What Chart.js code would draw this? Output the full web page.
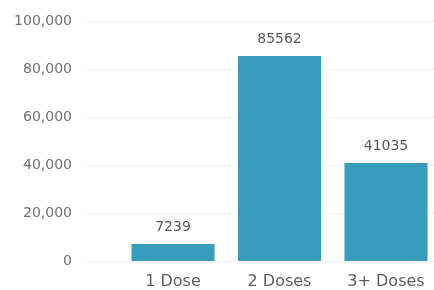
<!DOCTYPE html>
<html>
<head>
<meta charset="utf-8">
<script src="https://cdn.jsdelivr.net/npm/chart.js@4"></script>
<style>
html,body{margin:0;padding:0;background:#fff;overflow:hidden;}
#wrap{width:434px;height:290px;position:relative;}
</style>
</head>
<body>
<div id="wrap"><canvas id="c" width="434" height="290"></canvas></div>
<script>
const categories = ['1 Dose', '2 Doses', '3+ Doses'];
const doses = [7239, 85562, 41035];
const yTicks = [0, 20000, 40000, 60000, 80000, 100000];

const points = categories.map((c, i) => ({ x: i + 1, y: doses[i] }));

const labelPlugin = {
  id: 'barLabels',
  afterDatasetsDraw(chart) {
    const ctx = chart.ctx;
    const meta = chart.getDatasetMeta(0);
    ctx.save();
    ctx.font = '14px "DejaVu Sans"';
    ctx.fillStyle = '#5a5a5a';
    ctx.textAlign = 'center';
    ctx.textBaseline = 'bottom';
    meta.data.forEach((el, i) => {
      ctx.fillText(String(doses[i]), el.x, el.y - 10);
    });
    ctx.restore();
  }
};

new Chart(document.getElementById('c'), {
  type: 'bar',
  data: {
    datasets: [{
      data: points,
      backgroundColor: '#389cbd',
      borderWidth: 0,
      barPercentage: 0.78,
      categoryPercentage: 1.0
    }]
  },
  options: {
    responsive: false,
    animation: false,
    devicePixelRatio: 1,
    layout: { padding: { top: 13, right: 0, bottom: 0, left: 0 } },
    plugins: { legend: { display: false }, tooltip: { enabled: false } },
    scales: {
      x: {
        type: 'linear',
        offset: false,
        min: 0.1737,
        max: 3.4507,
        grid: { display: false, offset: false },
        border: { display: false },
        afterFit(scale) { scale.height = 28.5; },
        afterBuildTicks(scale) {
          scale.ticks = categories.map((c, i) => ({ value: i + 1 }));
        },
        ticks: {
          autoSkip: false,
          maxRotation: 0,
          padding: 3,
          color: '#5f5f5f',
          font: { family: 'DejaVu Sans', size: 16 },
          callback: (v) => categories[v - 1] || ''
        }
      },
      y: {
        min: 0,
        max: 100000,
        afterBuildTicks(scale) {
          scale.ticks = yTicks.map(v => ({ value: v }));
        },
        afterFit(scale) { scale.width = 85; },
        grid: { color: '#d9d9d9', drawTicks: false, lineWidth: 1 },
        border: { display: false, dash: [1, 3] },
        ticks: {
          padding: 13,
          color: '#707070',
          font: { family: 'DejaVu Sans', size: 14 },
          callback: (v) => v.toLocaleString('en-US')
        }
      }
    }
  },
  plugins: [labelPlugin]
});
</script>
</body>
</html>
